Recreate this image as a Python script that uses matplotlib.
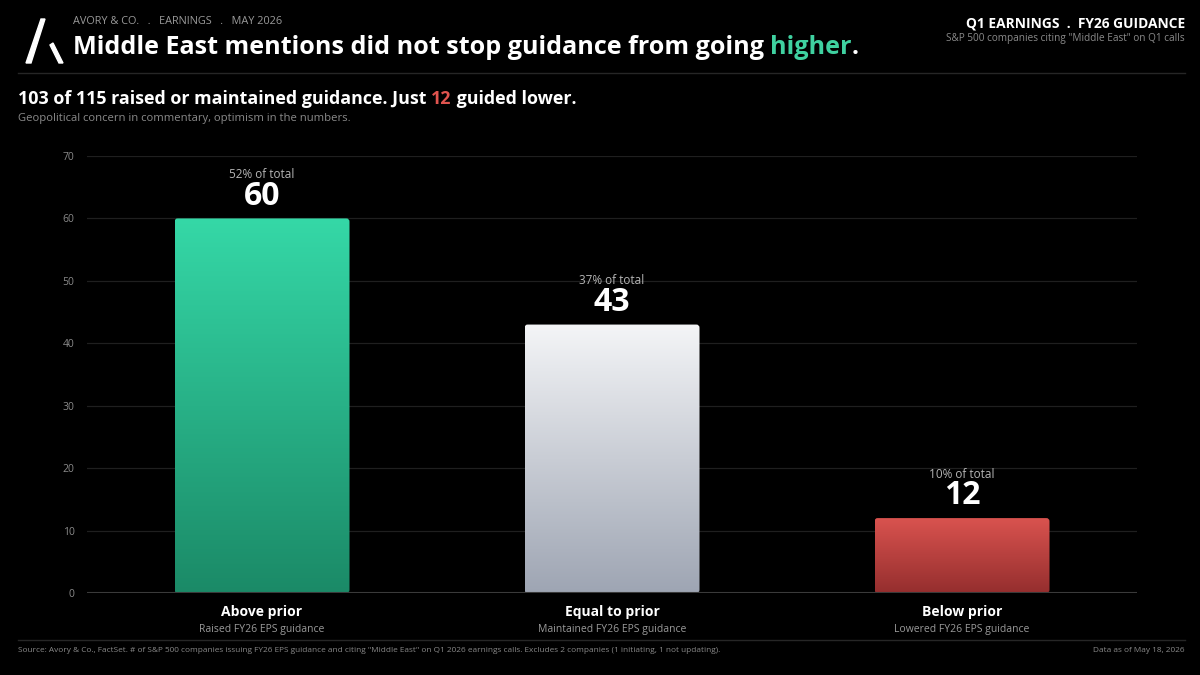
import matplotlib
matplotlib.use("Agg")
import matplotlib.pyplot as plt
import numpy as np
from matplotlib.patches import FancyBboxPatch, Polygon
from matplotlib.colors import LinearSegmentedColormap

plt.rcParams['font.family'] = ['Open Sans', 'DejaVu Sans']

categories = ["Above prior", "Equal to prior", "Below prior"]
sublabels = ["Raised FY26 EPS guidance", "Maintained FY26 EPS guidance", "Lowered FY26 EPS guidance"]
values = [60, 43, 12]
pct_labels = ["52% of total", "37% of total", "10% of total"]
yticks = [0, 10, 20, 30, 40, 50, 60, 70]
grad_top = ["#35d8a7", "#f4f5f7", "#d9534f"]
grad_bot = ["#1b8a67", "#9ea5b3", "#952e2e"]

BG = "#000000"
GRAY = "#9a9a9a"
W, H = 1200, 675
fig = plt.figure(figsize=(12, 6.75), dpi=100, facecolor=BG)

def fx(px): return px / W
def fy(py): return 1 - py / H

ax = fig.add_axes([fx(87), fy(593), fx(1137) - fx(87), fy(156) - fy(593)])
ax.set_facecolor(BG)
bars = ax.bar(range(len(values)), values, width=0.5, color="none", edgecolor="none", zorder=3)
ax.set_xlim(-0.5, 2.5)
ax.set_ylim(0, 70)
ax.set_yticks(yticks)
ax.tick_params(axis='y', length=0, pad=9, labelcolor="#8a8a8a", labelsize=7.5)
ax.set_xticks([])
for s in ax.spines.values():
    s.set_visible(False)
ax.grid(axis='y', color="#1f1f1f", linewidth=0.9, zorder=0)
ax.set_axisbelow(True)
ax.axhline(0, color="#3a3a3a", linewidth=1.5, zorder=4)

for i, b in enumerate(bars):
    x0, w, h = b.get_x(), b.get_width(), b.get_height()
    cmap = LinearSegmentedColormap.from_list("g%d" % i, [grad_bot[i], grad_top[i]])
    grad = np.linspace(0, 1, 256).reshape(-1, 1)
    patch = FancyBboxPatch((x0, 0), w, h, boxstyle="round,pad=0,rounding_size=0.009",
                           mutation_aspect=56, facecolor="none", edgecolor="none",
                           transform=ax.transData)
    ax.add_patch(patch)
    im = ax.imshow(grad, extent=[x0, x0 + w, 0, h], origin='lower', cmap=cmap,
                   aspect='auto', zorder=3)
    im.set_clip_path(patch)
    cx = x0 + w / 2
    ax.annotate(str(values[i]), (cx, h), xytext=(0, 16), textcoords="offset points",
                ha="center", va="center", color="white", fontsize=23, fontweight="bold")
    ax.annotate(pct_labels[i], (cx, h), xytext=(0, 31.5), textcoords="offset points",
                ha="center", va="center", color="#b5b5b5", fontsize=8.5)
    ax.annotate(categories[i], (cx, 0), xytext=(0, -13.5), textcoords="offset points",
                ha="center", va="center", color="white", fontsize=10, fontweight="bold",
                annotation_clip=False)
    ax.annotate(sublabels[i], (cx, 0), xytext=(0, -26.3), textcoords="offset points",
                ha="center", va="center", color=GRAY, fontsize=7.5, annotation_clip=False)
ax.set_aspect('auto')
ax.set_xlim(-0.5, 2.5)
ax.set_ylim(0, 70)

# logo
logo1 = Polygon([[fx(26), fy(63)], [fx(31), fy(63)], [fx(45), fy(19)], [fx(41), fy(19)]],
                closed=True, transform=fig.transFigure, color="white")
logo2 = Polygon([[fx(50), fy(45)], [fx(53), fy(43)], [fx(63), fy(63)], [fx(59), fy(63)]],
                closed=True, transform=fig.transFigure, color="white")
fig.add_artist(logo1)
fig.add_artist(logo2)

renderer = fig.canvas.get_renderer()

def rich(x, y, parts, **kw):
    cur = x
    for txt, col in parts:
        t = fig.text(cur, y, txt, color=col, **kw)
        bb = t.get_window_extent(renderer=renderer)
        cur += bb.width / W
    return cur

fig.text(fx(73), fy(22), "AVORY & CO.   .   EARNINGS   .   MAY 2026", color=GRAY,
         fontsize=7.8, va="center", ha="left")
rich(fx(73), fy(47), [("Middle East mentions did not stop guidance from going ", "white"),
                      ("higher", "#3fd1a0"), (".", "white")],
     fontsize=18.1, fontweight="bold", va="center", ha="left")

fig.text(fx(1185), fy(23), "Q1 EARNINGS  .  FY26 GUIDANCE", color="white", fontsize=9.9,
         fontweight="bold", ha="right", va="center")
fig.text(fx(1185), fy(39), 'S&P 500 companies citing "Middle East" on Q1 calls', color="#8a8a8a",
         fontsize=7.2, ha="right", va="center")

fig.add_artist(plt.Line2D([fx(18), fx(1185)], [fy(73), fy(73)], color="#262626", linewidth=1,
                          transform=fig.transFigure))

rich(fx(18), fy(99), [("103 of 115 raised or maintained guidance. Just ", "white"),
                      ("12", "#e0544f"), (" guided lower.", "white")],
     fontsize=12.9, fontweight="bold", va="center", ha="left")
fig.text(fx(18), fy(118), "Geopolitical concern in commentary, optimism in the numbers.",
         color="#8a8a8a", fontsize=8.1, va="center", ha="left")

fig.add_artist(plt.Line2D([fx(18), fx(1185)], [fy(640), fy(640)], color="#262626", linewidth=1,
                          transform=fig.transFigure))
fig.text(fx(18), fy(651), 'Source: Avory & Co., FactSet. # of S&P 500 companies issuing FY26 EPS guidance and citing "Middle East" on Q1 2026 earnings calls. Excludes 2 companies (1 initiating, 1 not updating).',
         color="#8a8a8a", fontsize=5.95, va="center", ha="left")
fig.text(fx(1185), fy(651), "Data as of May 18, 2026", color="#8a8a8a", fontsize=5.95,
         va="center", ha="right")

fig.savefig("out.png", dpi=100, facecolor=BG)
